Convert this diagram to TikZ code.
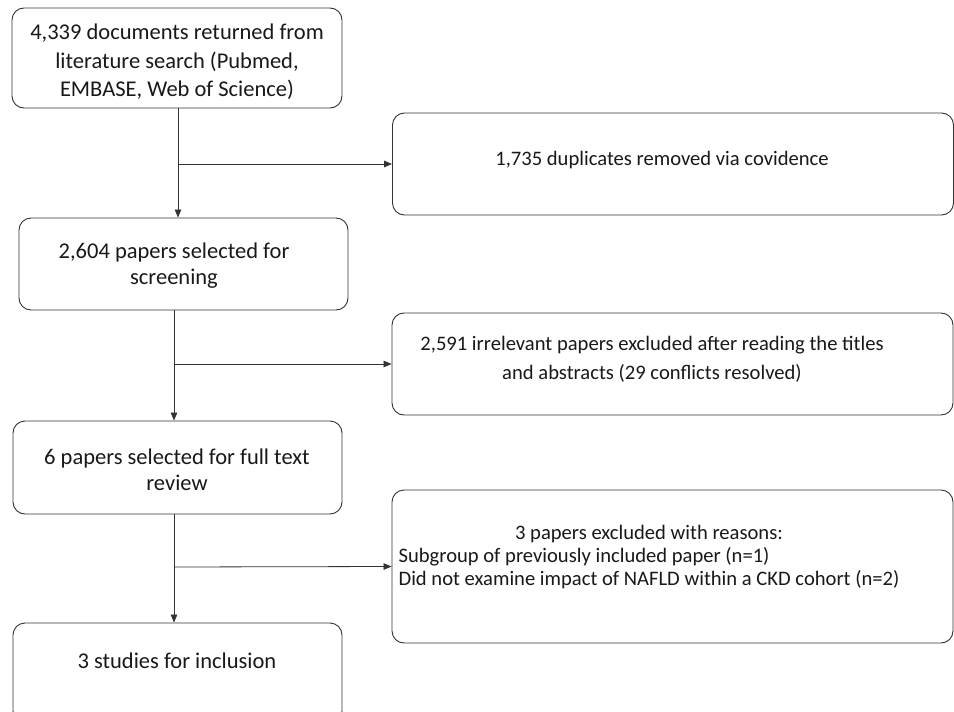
\documentclass[tikz,border=0pt]{standalone}
\usepackage{fontspec}
\setmainfont{Carlito}
\usetikzlibrary{arrows.meta}
\begin{document}
\begin{tikzpicture}[x=1pt,y=-1pt,
  box/.style={draw=black!80, line width=0.9pt, rounded corners=12pt, inner sep=0pt, anchor=center},
  txt/.style={font=\fontsize{22.5}{27}\selectfont, align=center, inner sep=0pt, text=black!90},
  rtxt/.style={font=\fontsize{20.6}{27}\selectfont, align=center, inner sep=0pt, text=black!90},
  arr/.style={draw=black!80, line width=0.8pt, -{Triangle[length=8pt,width=6.5pt]}}]
\clip (0,0) rectangle (954,712);
\fill[white] (0,0) rectangle (954,712);
% left boxes
\node[box, minimum width=330pt, minimum height=100pt] (b1) at (177,58) {};
\node[box, minimum width=329pt, minimum height=92pt] (b2) at (183.5,264) {};
\node[box, minimum width=329pt, minimum height=93pt] (b3) at (177.5,467.5) {};
\node[box, minimum width=329pt, minimum height=100pt] (b4) at (177.5,673) {};
% right boxes
\node[box, minimum width=561pt, minimum height=102pt] (r1) at (673,164) {};
\node[box, minimum width=561pt, minimum height=102pt] (r2) at (672.5,364) {};
\node[box, minimum width=561pt, minimum height=153pt] (r3) at (672.5,566.5) {};
% texts
\node[txt, font=\fontsize{22.5}{28.5}\selectfont] (t1) at (177,62) {4,339 documents returned from\\literature search (Pubmed,\\EMBASE, Web of Science)};
\node[txt, font=\fontsize{22.5}{26}\selectfont] (t2) at (174,266) {2,604 papers selected for\\screening};
\node[txt, font=\fontsize{22.5}{26}\selectfont] (t3) at (177,470) {6 papers selected for full text\\review};
\node[txt] (t4) at (177,661) {3 studies for inclusion};
\node[rtxt] (tr1) at (662,160) {1,735 duplicates removed via covidence};
\node[rtxt, font=\fontsize{20.6}{29}\selectfont] (tr2) at (652,359) {2,591 irrelevant papers excluded after reading the titles\\and abstracts (29 conflicts resolved)};
\node[rtxt, font=\fontsize{20.6}{25}\selectfont] (tr3) at (649,557) {\begin{tabular}{@{}l@{}}\multicolumn{1}{@{}c@{}}{3 papers excluded with reasons:}\\[-2pt]Subgroup of previously included paper (n=1)\\[-2pt]Did not examine impact of NAFLD within a CKD cohort (n=2)\end{tabular}};
% junctions
\coordinate (j1) at (178,164);
\coordinate (j2) at (174,364);
\coordinate (j3) at (174,567);
% connectors
\draw[arr] (b1.south -| j1) -- (b2.north -| j1);
\draw[arr] (j1) -- (r1.west);
\draw[arr] (b2.south -| j2) -- (b3.north -| j2);
\draw[arr] (j2) -- (r2.west);
\draw[arr] (b3.south -| j3) -- (b4.north -| j3);
\draw[arr] (j3) -- (r3.west);
\end{tikzpicture}
\end{document}
